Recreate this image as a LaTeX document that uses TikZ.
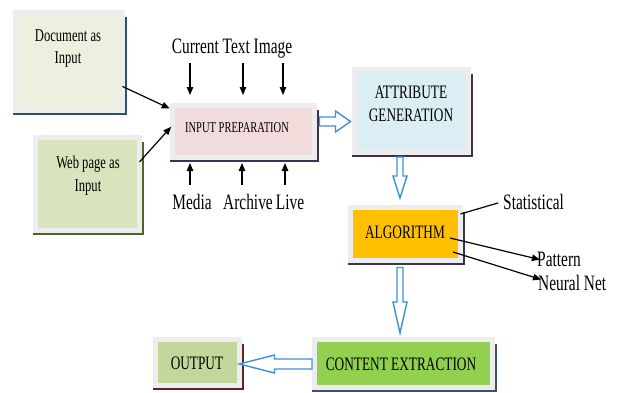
\documentclass[tikz,border=0pt]{standalone}
\usepackage{fontspec}
\setmainfont{Liberation Serif}[FakeStretch=0.7]
\usetikzlibrary{arrows.meta,calc}
\definecolor{framegray}{HTML}{EDEDED}
\definecolor{docfill}{HTML}{EBF1DE}\definecolor{docedge}{HTML}{2B5566}
\definecolor{webfill}{HTML}{D7E4BD}\definecolor{webedge}{HTML}{4F6228}
\definecolor{ipfill}{HTML}{F2DCDB}\definecolor{ipedge}{HTML}{3F3151}
\definecolor{attrfill}{HTML}{DBEEF4}\definecolor{attredge}{HTML}{3F3151}
\definecolor{algfill}{HTML}{FFC000}\definecolor{algedge}{HTML}{3F3151}
\definecolor{cefill}{HTML}{92D050}\definecolor{ceedge}{HTML}{3F4F6F}
\definecolor{outfill}{HTML}{C3D69B}\definecolor{outedge}{HTML}{632523}
\definecolor{flowblue}{HTML}{3C8FD9}
\newcommand\darkedge[2]{\draw[#2, line width=1.8pt] ([xshift=3.5pt,yshift=-4pt]#1.north east) -- ([xshift=3.5pt,yshift=-3.5pt]#1.south east) -- ([xshift=-2.5pt,yshift=-3.5pt]#1.south west);}
% horizontal hollow arrow: start, end, shaft half, head half, head length (negative for leftward)
\newcommand\hollowH[5]{\draw[hollow] let \p1=(#1), \p2=(#2), \n1={#5} in ({\x1},{\y1+#3}) -- ({\x2-\n1},{\y1+#3}) -- ({\x2-\n1},{\y1+#4}) -- ({\x2},{\y1}) -- ({\x2-\n1},{\y1-#4}) -- ({\x2-\n1},{\y1-#3}) -- ({\x1},{\y1-#3}) -- cycle;}
% downward hollow arrow
\newcommand\hollowV[5]{\draw[hollow] let \p1=(#1), \p2=(#2), \n1={#5} in ({\x1+#3},{\y1}) -- ({\x1+#3},{\y2+\n1}) -- ({\x1+#4},{\y2+\n1}) -- ({\x1},{\y2}) -- ({\x1-#4},{\y2+\n1}) -- ({\x1-#3},{\y2+\n1}) -- ({\x1-#3},{\y1}) -- cycle;}
\begin{document}
\begin{tikzpicture}[x=1pt,y=-1pt,
  box/.style={draw=framegray, line width=5pt, outer sep=0pt, inner sep=0pt},
  lbl/.style={inner sep=0pt, anchor=base, font=\fontsize{22}{24}\selectfont},
  btxt/.style={inner sep=0pt, anchor=base, font=\fontsize{19}{22}\selectfont},
  arr/.style={line width=1.2pt, -{Triangle[length=8pt,width=6.5pt]}},
  hollow/.style={draw=flowblue, line width=1.4pt, fill=white, line join=miter}]
\useasboundingbox (0,0) rectangle (621,392);
% boxes
\node[box, fill=docfill, minimum width=107pt, minimum height=98pt] (doc) at (69,61.5) {};
\node[box, fill=webfill, minimum width=104pt, minimum height=93pt] (web) at (87.5,184) {};
\node[box, fill=ipfill, minimum width=142pt, minimum height=52pt] (ip) at (243.5,131.5) {};
\node[box, fill=attrfill, minimum width=114pt, minimum height=83pt] (attr) at (411.5,111) {};
\node[box, fill=algfill, minimum width=110pt, minimum height=53pt] (alg) at (405.5,234) {};
\node[box, fill=cefill, minimum width=178pt, minimum height=48pt] (ce) at (403.5,363.5) {};
\node[box, fill=outfill, minimum width=84pt, minimum height=46pt] (out) at (197.5,362.5) {};
\darkedge{doc}{docedge}
\darkedge{web}{webedge}
\darkedge{ip}{ipedge}
\darkedge{attr}{attredge}
\darkedge{alg}{algedge}
\darkedge{ce}{ceedge}
\darkedge{out}{outedge}
% box texts
\node[btxt, font=\fontsize{18}{22}\selectfont] (docT1) at (68,41) {Document as};
\node[btxt, font=\fontsize{18}{22}\selectfont] (docT2) at (68,63) {Input};
\node[btxt, font=\fontsize{18}{22}\selectfont] (webT1) at (88,168) {Web page as};
\node[btxt, font=\fontsize{18}{22}\selectfont] (webT2) at (88,191) {Input};
\node[btxt, font=\fontsize{15}{18}\selectfont] (ipT) at (237,132) {INPUT PREPARATION};
\node[btxt] (attrT1) at (411,98) {ATTRIBUTE};
\node[btxt] (attrT2) at (411,121) {GENERATION};
\node[btxt] (algT) at (405,238) {ALGORITHM};
\node[btxt] (ceT) at (401,370) {CONTENT EXTRACTION};
\node[btxt] (outT) at (197,369) {OUTPUT};
% outer labels
\node[lbl] (cti) at (232,53) {Current Text Image};
\node[lbl] (media) at (192,209) {Media};
\node[lbl] (archive) at (248,209) {Archive};
\node[lbl] (live) at (290,209) {Live};
\node[lbl, anchor=base west] (stat) at (503,209) {Statistical};
\node[lbl, anchor=base west] (pat) at (537,266) {Pattern};
\node[lbl, anchor=base west] (nn) at (538,290) {Neural Net};
% thin arrows into input preparation
\draw[arr, shorten >=3pt] (doc.-25) -- (ip.163);
\draw[arr, shorten >=2pt] (web.23) -- (ip.175);
\coordinate (c1) at (190,63);
\coordinate (c2) at (243,63);
\coordinate (c3) at (283,63);
\foreach \c in {c1,c2,c3} \draw[arr, shorten >=10.5pt] (\c) -- (\c |- ip.north);
\coordinate (m1) at (190,185);
\coordinate (m2) at (242,185);
\coordinate (m3) at (285,185);
\foreach \c in {m1,m2,m3} \draw[arr, shorten >=5.5pt] (\c) -- (\c |- ip.south);
% algorithm branches
\draw[line width=1.2pt, shorten >=5pt] (alg.20) -- (stat.west);
\coordinate (p0) at (450,238);
\coordinate (n0) at (453,252);
\draw[arr, shorten >=-3pt] (p0) -- (pat.west);
\draw[arr] (n0) -- ($(nn.west)+(3,-3)$);
% hollow flow arrows
\hollowH{[xshift=5pt,yshift=10pt]ip.east}{[xshift=-4pt]attr.west}{4.5pt}{10.5pt}{15pt}
\hollowV{[xshift=-11.5pt,yshift=-4.5pt]attr.south}{[xshift=-11.5pt,yshift=9.5pt]alg.north}{3pt}{7pt}{22pt}
\hollowV{[xshift=-5.5pt,yshift=-7pt]alg.south}{[xshift=-3.5pt,yshift=6.5pt]ce.north}{3pt}{7pt}{31pt}
\hollowH{[xshift=-2.5pt,yshift=-0.5pt]ce.west}{out.east}{5pt}{9pt}{-35pt}
\end{tikzpicture}
\end{document}
